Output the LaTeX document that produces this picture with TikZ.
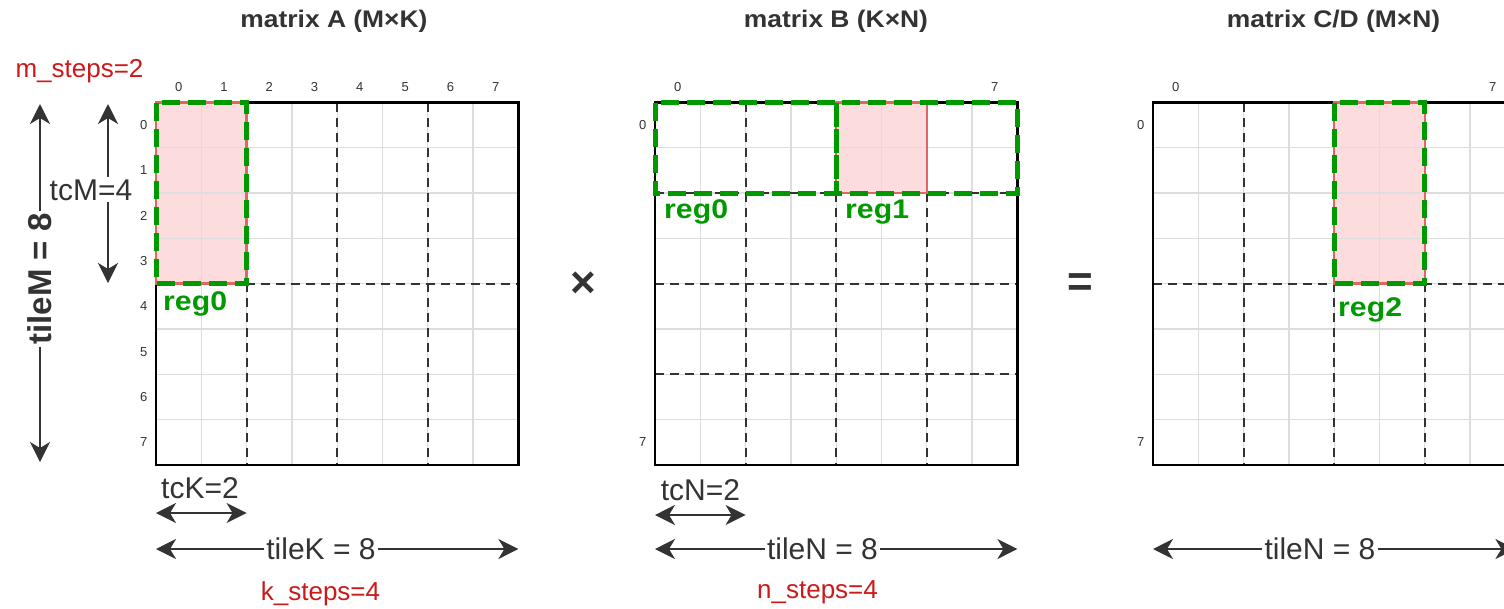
\documentclass[tikz,border=0pt]{standalone}
\usepackage{fontspec}
\setmainfont{Liberation Sans}
\newfontfamily\titlefont{Liberation Sans}[FakeStretch=1.1]
\newfontfamily\regfont{Liberation Sans}[FakeStretch=1.12]
\usetikzlibrary{arrows.meta}
\definecolor{ink}{HTML}{333333}
\definecolor{gridgray}{HTML}{DDDDDD}
\definecolor{tilegreen}{HTML}{009900}
\definecolor{edgered}{HTML}{E06666}
\definecolor{regpink}{HTML}{FCDCDC}
\definecolor{stepred}{HTML}{CC1A1A}
\tikzset{
  idx/.style={text=ink, font=\fontsize{13}{15}\selectfont, inner sep=0pt},
  ttl/.style={text=ink, font=\titlefont\bfseries\fontsize{24}{28}\selectfont, anchor=base, inner sep=0pt},
  dimlbl/.style={text=ink, font=\fontsize{30}{34}\selectfont, inner sep=2pt},
  dimbold/.style={text=ink, font=\bfseries\fontsize{33}{36}\selectfont, inner sep=2pt},
  steplbl/.style={text=stepred, font=\fontsize{26}{30}\selectfont, anchor=base, inner sep=0pt},
  reglbl/.style={text=tilegreen, font=\regfont\bfseries\fontsize{27}{30}\selectfont, anchor=base west, inner sep=0pt},
  oplbl/.style={text=ink, font=\bfseries\fontsize{44}{48}\selectfont, inner sep=0pt},
  gridline/.style={draw=gridgray, line width=1.3pt},
  tileline/.style={draw=ink, line width=2pt, dash pattern=on 9pt off 6pt},
  frame/.style={draw=black, line width=2.5pt},
  regfill/.style={fill=regpink},
  rededge/.style={draw=edgered, line width=2.5pt},
  greenedge/.style={draw=tilegreen, line width=5pt, dash pattern=on 18pt off 8pt},
  arr/.style={line width=2pt, draw=ink, -{Stealth[length=20pt,width=20pt,inset=6pt]}},
  darr/.style={line width=2pt, draw=ink, {Stealth[length=20pt,width=20pt,inset=6pt]}-{Stealth[length=20pt,width=20pt,inset=6pt]}},
}
\newcommand\cellgrid{%
  \foreach \i in {1,...,7} {
    \draw[gridline] (\i,0) -- (\i,8);
    \draw[gridline] (0,\i) -- (8,\i);
  }}
\begin{document}
\begin{tikzpicture}[x=1pt,y=-1pt]
\useasboundingbox (0,0) rectangle (1504,608);
\clip (0,0) rectangle (1504,608);
\fill[white] (0,0) rectangle (1504,608);

% ---------- matrix A ----------
\begin{scope}[shift={(156,102.5)}, x=45.3pt, y=-45.3pt]
  \fill[regfill] (0,0) rectangle (2,4);
  \cellgrid
  \foreach \i in {2,4,6} { \draw[tileline] (\i,0) -- (\i,8); }
  \draw[tileline] (0,4) -- (8,4);
  \draw[frame] (0,0) rectangle (8,8);
  \draw[rededge] (0,0) rectangle (2,4);
  \draw[greenedge] (0,0) rectangle (2,4);
  \foreach \i in {0,...,7} {
    \node[idx] (Acol\i) at (\i+0.5,-0.35) {\i};
    \node[idx] (Arow\i) at (-0.27,\i+0.5) {\i};
  }
\end{scope}

% ---------- matrix B ----------
\begin{scope}[shift={(655,102.5)}, x=45.3pt, y=-45.3pt]
  \fill[regfill] (4,0) rectangle (6,2);
  \cellgrid
  \foreach \i in {2,4,6} {
    \draw[tileline] (\i,0) -- (\i,8);
    \draw[tileline] (0,\i) -- (8,\i);
  }
  \draw[frame] (0,0) rectangle (8,8);
  \draw[rededge] (4,0) rectangle (6,2);
  \draw[greenedge] (0,0) rectangle (4,2);
  \draw[greenedge] (4,0) rectangle (8,2);
  \node[idx] (Bcol0) at (0.5,-0.35) {0};
  \node[idx] (Bcol7) at (7.5,-0.35) {7};
  \node[idx] (Brow0) at (-0.27,0.5) {0};
  \node[idx] (Brow7) at (-0.27,7.5) {7};
\end{scope}

% ---------- matrix C/D ----------
\begin{scope}[shift={(1153,102.5)}, x=45.3pt, y=-45.3pt]
  \fill[regfill] (4,0) rectangle (6,4);
  \cellgrid
  \foreach \i in {2,4,6} { \draw[tileline] (\i,0) -- (\i,8); }
  \draw[tileline] (0,4) -- (8,4);
  \draw[frame] (0,0) rectangle (8,8);
  \draw[rededge] (4,0) rectangle (6,4);
  \draw[greenedge] (4,0) rectangle (6,4);
  \node[idx] (Ccol0) at (0.5,-0.35) {0};
  \node[idx] (Ccol7) at (7.5,-0.35) {7};
  \node[idx] (Crow0) at (-0.27,0.5) {0};
  \node[idx] (Crow7) at (-0.27,7.5) {7};
\end{scope}

% ---------- titles ----------
\node[ttl] (titleA) at (334,27) {matrix A (M×K)};
\node[ttl] (titleB) at (836,27) {matrix B (K×N)};
\node[ttl] (titleC) at (1333.5,27) {matrix C/D (M×N)};

% ---------- operators ----------
\node[oplbl] (times) at (583,285) {×};
\node[oplbl] (equals) at (1080.5,285) {=};

% ---------- register labels ----------
\node[reglbl] (regA) at (163,310) {reg0};
\node[reglbl] (regB0) at (664,218) {reg0};
\node[reglbl] (regB1) at (845,218) {reg1};
\node[reglbl] (regC) at (1338,316) {reg2};

% ---------- step labels ----------
\node[steplbl] (msteps) at (79.5,77) {m\_steps=2};
\node[steplbl] (ksteps) at (320.5,600) {k\_steps=4};
\node[steplbl] (nsteps) at (817.5,598) {n\_steps=4};

% ---------- tileM ----------
\coordinate (tileMtop) at (40,104);
\coordinate (tileMbot) at (40,462);
\node[dimbold, rotate=90] (tileMtxt) at (40,279) {tileM = 8};
\draw[arr] (tileMtxt.east) -- (tileMtop);
\draw[arr] (tileMtxt.west) -- (tileMbot);

% ---------- tcM ----------
\coordinate (tcMtop) at (108,104);
\coordinate (tcMbot) at (108,283);
\node[dimlbl, anchor=base] (tcMtxt) at (91,200) {tcM=4};
\draw[arr] (tcMtxt.north -| tcMtop) -- (tcMtop);
\draw[arr] (tcMtxt.south -| tcMbot) -- (tcMbot);

% ---------- tcK / tcN ----------
\node[dimlbl, anchor=base] (tcKtxt) at (200,498) {tcK=2};
\coordinate (tcKL) at (156,513);
\coordinate (tcKR) at (246.6,513);
\draw[darr] (tcKL) -- (tcKR);

\node[dimlbl, anchor=base] (tcNtxt) at (700.5,500) {tcN=2};
\coordinate (tcNL) at (655,515);
\coordinate (tcNR) at (745.6,515);
\draw[darr] (tcNL) -- (tcNR);

% ---------- tileK / tileN ----------
\node[dimlbl] (tileKtxt) at (321,549) {tileK = 8};
\coordinate (tileKL) at (156,549);
\coordinate (tileKR) at (518.4,549);
\draw[arr] (tileKtxt) -- (tileKL);
\draw[arr] (tileKtxt) -- (tileKR);

\node[dimlbl] (tileNBtxt) at (822.5,549) {tileN = 8};
\coordinate (tileNBL) at (655,549);
\coordinate (tileNBR) at (1017.4,549);
\draw[arr] (tileNBtxt) -- (tileNBL);
\draw[arr] (tileNBtxt) -- (tileNBR);

\node[dimlbl] (tileNCtxt) at (1320,549) {tileN = 8};
\coordinate (tileNCL) at (1153,549);
\coordinate (tileNCR) at (1515.4,549);
\draw[arr] (tileNCtxt) -- (tileNCL);
\draw[arr] (tileNCtxt) -- (tileNCR);
\end{tikzpicture}
\end{document}
